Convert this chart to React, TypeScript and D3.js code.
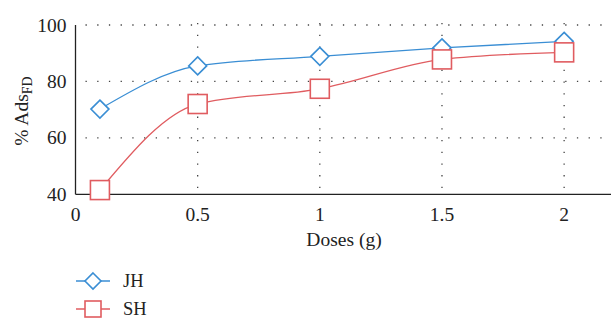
import * as d3 from 'd3';

const doses = [0.1, 0.5, 1, 1.5, 2];
const jh = [70.2, 85.5, 88.9, 91.9, 94.2];
const sh = [41.5, 72.0, 77.4, 87.8, 90.3];
const xTicks = [0, 0.5, 1, 1.5, 2];
const yTicks = [40, 60, 80, 100];

const W = 611;
const H = 320;
const FONT = '"Liberation Serif", "DejaVu Serif", serif';
const BLUE = '#3a8ed4';
const RED = '#e05c60';

const x = d3.scaleLinear().domain([0, 2.2]).range([75.5, 613]);
const y = d3.scaleLinear().domain([40, 100]).range([194.3, 25]);

const line = d3
    .line<number>()
    .x((_d, i) => x(doses[i]))
    .y((d) => y(d))
    .curve(d3.curveMonotoneX);

function Diamond({ cx, cy, r = 9 }: { cx: number; cy: number; r?: number }) {
    return (
        <path
            d={`M${cx},${cy - r}L${cx + r},${cy}L${cx},${cy + r}L${cx - r},${cy}Z`}
            fill="#fff"
            stroke={BLUE}
            strokeWidth={1.6}
        />
    );
}

function Square({ cx, cy, s = 9.5 }: { cx: number; cy: number; s?: number }) {
    return <rect x={cx - s} y={cy - s} width={2 * s} height={2 * s} fill="#fff" stroke={RED} strokeWidth={1.6} />;
}

export default function App() {
    return (
        <svg width={W} height={H} style={{ position: 'absolute', left: 0, top: 0, background: '#fff' }}>
            {/* grid */}
            <g stroke="#444" strokeWidth={1.3} strokeDasharray="1.3 10.4" fill="none">
                {yTicks.slice(1).map((t) => (
                    <line key={`gy${t}`} x1={x(0) + 10} x2={W} y1={y(t)} y2={y(t)} />
                ))}
                {xTicks.slice(1).map((t) => (
                    <line key={`gx${t}`} x1={x(t)} x2={x(t)} y1={y(100) - 2} y2={y(40)} />
                ))}
            </g>
            {/* axes */}
            <line x1={x(0)} x2={x(0)} y1={y(100)} y2={y(40)} stroke="#222" strokeWidth={1.3} />
            <line x1={x(0)} x2={W} y1={y(40)} y2={y(40)} stroke="#222" strokeWidth={1.3} />
            <g fontFamily={FONT} fontSize={19.5} fill="#222">
                {yTicks.map((t) => (
                    <text key={`ty${t}`} x={66.5} y={y(t)} dy="0.34em" textAnchor="end">
                        {t}
                    </text>
                ))}
                {xTicks.map((t) => (
                    <text key={`tx${t}`} x={x(t)} y={221} textAnchor="middle">
                        {t}
                    </text>
                ))}
                <text x={344} y={246} textAnchor="middle">
                    Doses (g)
                </text>
                <text transform="translate(28,111) rotate(-90)" textAnchor="middle">
                    % Ads
                    <tspan fontSize={14} dy={4}>
                        FD
                    </tspan>
                </text>
            </g>
            {/* series */}
            <path d={line(jh) ?? ''} fill="none" stroke={BLUE} strokeWidth={1.3} />
            {jh.map((v, i) => (
                <Diamond key={`j${i}`} cx={x(doses[i])} cy={y(v)} />
            ))}
            <path d={line(sh) ?? ''} fill="none" stroke={RED} strokeWidth={1.3} />
            {sh.map((v, i) => (
                <Square key={`s${i}`} cx={x(doses[i])} cy={y(v)} />
            ))}
            {/* legend */}
            <g fontFamily={FONT} fontSize={18.5} fill="#222">
                <line x1={76} x2={110} y1={281} y2={281} stroke={BLUE} strokeWidth={1.3} />
                <Diamond cx={93} cy={281} r={8} />
                <text x={123} y={281} dy="0.34em">
                    JH
                </text>
                <line x1={76} x2={110} y1={309} y2={309} stroke={RED} strokeWidth={1.3} />
                <Square cx={93} cy={309} s={8} />
                <text x={123} y={309} dy="0.34em">
                    SH
                </text>
            </g>
        </svg>
    );
}
